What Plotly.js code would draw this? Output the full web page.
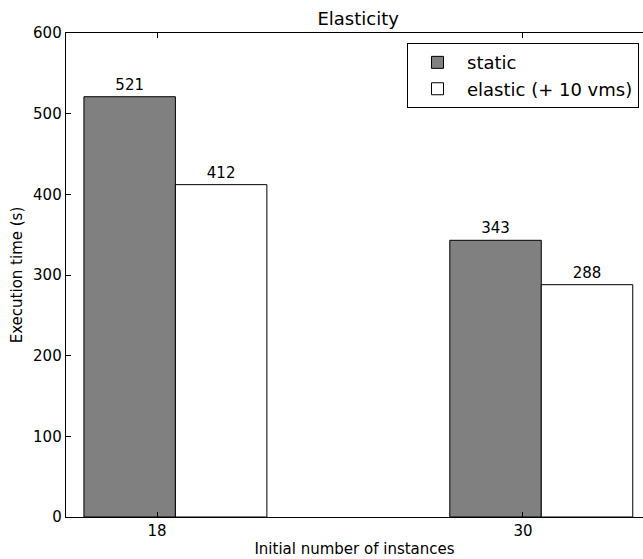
<!DOCTYPE html>
<html>
<head>
<meta charset="utf-8">
<script src="https://cdn.plot.ly/plotly-3.0.1.min.js"></script>
<style>html,body{margin:0;padding:0;background:#fff;}#chart{width:643px;height:559px;}</style>
</head>
<body>
<div id="chart"></div>
<script>
const categories = ["18", "30"];
const staticValues = [521, 343];
const elasticValues = [412, 288];
const seriesNames = ["static", "elastic (+ 10 vms)"];

const pos = categories.map((c, i) => i);
const font = "DejaVu Sans, sans-serif";

const traces = [
  {
    type: "bar", name: seriesNames[0], x: pos, y: staticValues,
    offset: -0.2, width: 0.25,
    marker: {color: "#808080", line: {color: "#000", width: 1}},
    text: staticValues.map(String), textposition: "outside", cliponaxis: false,
    textfont: {family: font, size: 15, color: "#000"}
  },
  {
    type: "bar", name: seriesNames[1], x: pos, y: elasticValues,
    offset: 0.05, width: 0.25,
    marker: {color: "#ffffff", line: {color: "#000", width: 1}},
    text: elasticValues.map(String), textposition: "outside", cliponaxis: false,
    textfont: {family: font, size: 15, color: "#000"}
  }
];

const layout = {
  width: 643, height: 559,
  margin: {l: 66, r: 0, t: 33, b: 42},
  paper_bgcolor: "#fff", plot_bgcolor: "#fff",
  font: {family: font, size: 15, color: "#000"},
  barmode: "overlay",
  showlegend: true,
  title: {text: "Elasticity", x: 0.557, xanchor: "center", y: 0.966, yanchor: "middle", font: {family: font, size: 18, color: "#000"}},
  xaxis: {
    range: [-0.249, 1.328],
    tickvals: pos, ticktext: categories,
    ticks: "inside", ticklen: 5, tickcolor: "#000",
    showline: true, linecolor: "#000", linewidth: 1.3, mirror: "ticks",
    showgrid: false, zeroline: false,
    tickfont: {family: font, size: 15},
    title: {text: "Initial number of instances", font: {family: font, size: 15}, standoff: 4}
  },
  yaxis: {
    range: [0, 600], dtick: 100,
    ticks: "inside", ticklen: 5, tickcolor: "#000",
    showline: true, linecolor: "#000", linewidth: 1.3,
    showgrid: false, zeroline: false,
    tickfont: {family: font, size: 15},
    title: {text: "Execution time (s)", font: {family: font, size: 15}, standoff: 6}
  },
  legend: {
    x: 0.591, xanchor: "left", y: 0.979, yanchor: "top",
    bgcolor: "#fff", bordercolor: "#000", borderwidth: 1,
    font: {family: font, size: 18, color: "#000"},
    traceorder: "normal", itemwidth: 49
  }
};

Plotly.newPlot("chart", traces, layout, {displayModeBar: false, staticPlot: true});
</script>
</body>
</html>
